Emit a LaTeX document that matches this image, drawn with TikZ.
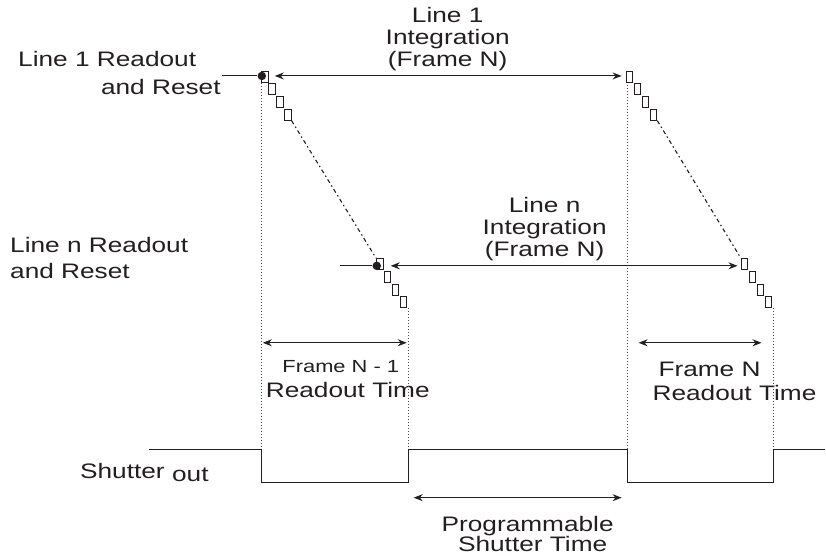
\documentclass[tikz,border=0pt]{standalone}
\usepackage{fontspec}
\setmainfont[FakeStretch=1.25]{Liberation Sans}
\usetikzlibrary{arrows.meta}
\definecolor{ink}{HTML}{231F20}
\begin{document}
\begin{tikzpicture}[x=1pt,y=-1pt,
  txt/.style={font=\fontsize{21}{22}\selectfont, inner sep=0pt, text=ink},
  txts/.style={font=\fontsize{17.5}{19}\selectfont, inner sep=0pt, text=ink},
  sq/.style={draw=ink, line width=1pt, minimum width=6.5pt, minimum height=10.5pt, inner sep=0pt, fill=white},
  blob/.style={circle, fill=ink, minimum size=8.5pt, inner sep=0pt},
  solid line/.style={draw=ink, line width=1.1pt},
  twoway/.style={draw=ink, line width=1.1pt, {Stealth[length=9pt,width=7pt]}-{Stealth[length=9pt,width=7pt]}},
  dotline/.style={draw=ink!80, line width=0.7pt, dash pattern=on 1.5pt off 1.5pt},
  dashdotline/.style={draw=ink, line width=1.1pt, dash pattern=on 4pt off 3pt on 1.5pt off 3pt}]
\path (0,0) rectangle (826,556);

% ---- texts
\node[txt, anchor=base] (t1a) at (448,23) {Line 1};
\node[txt, anchor=base] (t1b) at (448,45) {Integration};
\node[txt, anchor=base] (t1c) at (448,67) {(Frame N)};
\node[txt, anchor=base west] (r1a) at (18,67) {Line 1 Readout};
\node[txt, anchor=base east] (r1b) at (221,95) {and Reset};
\node[txt, anchor=base] (tna) at (545,213) {Line n};
\node[txt, anchor=base] (tnb) at (545,235) {Integration};
\node[txt, anchor=base] (tnc) at (545,257) {(Frame N)};
\node[txt, anchor=base west] (rna) at (10,253) {Line n Readout};
\node[txt, anchor=base west] (rnb) at (10,279) {and Reset};
\node[txts, anchor=base] (f1a) at (341,373) {Frame N - 1};
\node[txt, anchor=base] (f1b) at (348,398) {Readout Time};
\node[txt, anchor=base] (f2a) at (710,377) {Frame N};
\node[txt, anchor=base] (f2b) at (735,401) {Readout Time};
\node[txt, anchor=base west] (sh1) at (80,479) {Shutter};
\node[txt, anchor=base west] (sh2) at (172,482) {out};
\node[txt, anchor=base] (p1) at (528,532) {Programmable};
\node[txt, anchor=base] (p2) at (533,552) {Shutter Time};

% ---- waveform coordinates
\coordinate (w0) at (149,450);
\coordinate (w1) at (262,450);
\coordinate (w2) at (409,450);
\coordinate (w3) at (628,450);
\coordinate (w4) at (774,450);
\coordinate (w5) at (826,450);

% ---- dotted verticals (drawn first)
\coordinate (v1) at (262,80);
\coordinate (v2) at (409,308);
\coordinate (v3) at (628,82);
\coordinate (v4) at (774,308);
\draw[dotline] (v1) -- (w1);
\draw[dotline] (v2) -- (w2);
\draw[dotline] (v3) -- (w3);
\draw[dotline] (v4) -- (w4);

% ---- squares, left frame
\node[sq] (a1) at (265,77) {};
\node[sq] (a2) at (272,89) {};
\node[sq] (a3) at (280,102) {};
\node[sq] (a4) at (288,115) {};
\node[sq] (b1) at (380,264) {};
\node[sq] (b2) at (388,277) {};
\node[sq] (b3) at (396,290) {};
\node[sq] (b4) at (404,302) {};
% ---- squares, right frame
\node[sq] (c1) at (630,77) {};
\node[sq] (c2) at (638,89) {};
\node[sq] (c3) at (646,102) {};
\node[sq] (c4) at (654,115) {};
\node[sq] (e1) at (745,264) {};
\node[sq] (e2) at (753,277) {};
\node[sq] (e3) at (761,290) {};
\node[sq] (e4) at (769,302) {};

% ---- dash-dot diagonals
\draw[dashdotline] (a4.south east) -- (b1.north west);
\draw[dashdotline] (c4.south east) -- (e1.north west);

% ---- dots
\node[blob] (d1) at (262,76) {};
\node[blob] (d2) at (377,266) {};

% ---- row lines
\coordinate (s1) at (222,76);
\coordinate (s2) at (340,266);
\draw[solid line] (s1) -- (d1);
\draw[solid line] (s2) -- (d2);
\coordinate (i1l) at (275,76);
\coordinate (i1r) at (622,76);
\coordinate (inl) at (391,266);
\coordinate (inr) at (738,266);
\draw[twoway] (i1l) -- (i1r);
\draw[twoway] (inl) -- (inr);

% ---- readout arrows
\coordinate (ro1l) at (263,343);
\coordinate (ro1r) at (407,343);
\coordinate (ro2l) at (639,343);
\coordinate (ro2r) at (762,343);
\draw[twoway] (ro1l) -- (ro1r);
\draw[twoway] (ro2l) -- (ro2r);

% ---- shutter waveform
\draw[solid line] (w0) -- (w1) -- ++(0,33) -| (w2) -- (w3) -- ++(0,33) -| (w4) -- (w5);

% ---- programmable shutter time
\coordinate (pl) at (414,498);
\coordinate (pr) at (622,498);
\draw[twoway] (pl) -- (pr);
\end{tikzpicture}
\end{document}
